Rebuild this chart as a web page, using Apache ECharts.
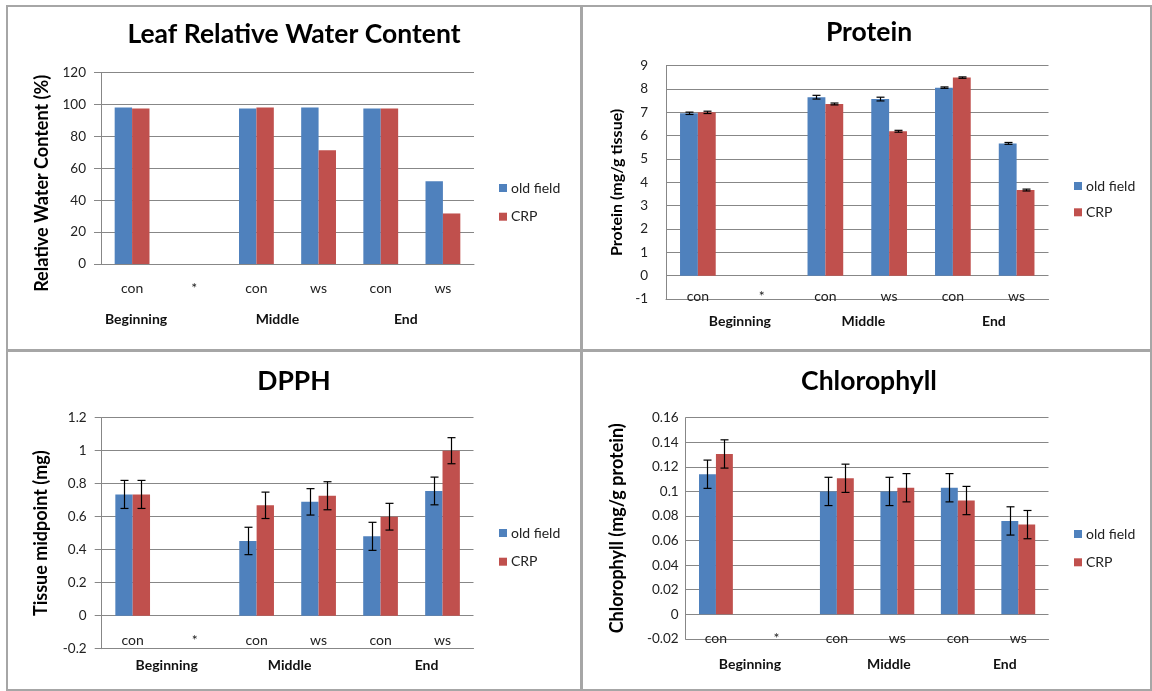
<!DOCTYPE html>
<html>
<head>
<meta charset="utf-8">
<script src="https://cdn.jsdelivr.net/npm/echarts@6/dist/echarts.min.js"></script>
<style>
  html, body { margin: 0; background: #fff; }
  #chart { width: 1152px; height: 691px; }
</style>
</head>
<body>
<div id="chart"></div>
<script>
// categories shared by all four panels
const categories = ['con', '*', 'con', 'ws', 'con', 'ws'];
const stages = ['Beginning', '', 'Middle', '', 'End', ''];
const seriesNames = ['old field', 'CRP'];

// Leaf relative water content (%)
const rwcOld = [98.1, null, 97.5, 98.1, 97.5, 51.9];
const rwcCrp = [97.5, null, 98.1, 71.3, 97.5, 31.7];

// Protein (mg/g tissue)
const proteinOld = [6.96, null, 7.65, 7.57, 8.06, 5.67];
const proteinCrp = [7.0, null, 7.36, 6.19, 8.49, 3.67];
const proteinOldErr = [0.05, null, 0.08, 0.08, 0.03, 0.04];
const proteinCrpErr = [0.05, null, 0.04, 0.04, 0.03, 0.04];

// DPPH tissue midpoint (mg)
const dpphOld = [0.735, null, 0.453, 0.69, 0.481, 0.756];
const dpphCrp = [0.735, null, 0.669, 0.727, 0.6, 1.0];
const dpphOldErr = [0.085, null, 0.083, 0.08, 0.085, 0.084];
const dpphCrpErr = [0.085, null, 0.08, 0.085, 0.081, 0.079];

// Chlorophyll (mg/g protein)
const chlOld = [0.114, null, 0.1, 0.1, 0.103, 0.076];
const chlCrp = [0.1305, null, 0.1107, 0.103, 0.0926, 0.073];
const chlOldErr = [0.0115, null, 0.0115, 0.0115, 0.0115, 0.0115];
const chlCrpErr = [0.0115, null, 0.0115, 0.0115, 0.0115, 0.0115];

const BLUE = '#4F81BD';
const RED = '#C0504D';
const GRID_LINE = '#878787';
const FONT = 'Lato, "Liberation Sans", sans-serif';

// layout of each panel (pixel positions only)
const panels = [
  {
    title: 'Leaf Relative Water Content', titleX: 294, titleY: 21,
    yName: 'Relative Water Content (%)', nameSize: 18, nameGap: 50, namePad: [0, 30, 0, 0],
    grid: { left: 101, right: 678, top: 72.7, bottom: 427 },
    min: 0, max: 120, interval: 20, ticks: true, labelMargin: 15,
    catMargin: 17, stageMargin: 48, stageShift: [4, 0, 21, 0, 25, 0],
    legend: { left: 499, top: 181, itemGap: 14.7 },
    old: rwcOld, crp: rwcCrp
  },
  {
    title: 'Protein', titleX: 869, titleY: 19,
    yName: 'Protein (mg/g tissue)', nameSize: 16, nameGap: 41, namePad: [0, 0, 0, 0],
    grid: { left: 666, right: 103.5, top: 65.7, bottom: 392 },
    min: -1, max: 9, interval: 1, ticks: false, labelMargin: 18,
    catMargin: -10, stageMargin: 15, stageShift: [42, 0, 38, 0, 41, 0],
    legend: { left: 1074, top: 179, itemGap: 12.3 },
    old: proteinOld, crp: proteinCrp, oldErr: proteinOldErr, crpErr: proteinCrpErr
  },
  {
    title: 'DPPH', titleX: 294, titleY: 368,
    yName: 'Tissue midpoint (mg)', nameSize: 18, nameGap: 52, namePad: [0, 0, 0, 0],
    grid: { left: 101.7, right: 678.5, top: 417.7, bottom: 42.3 },
    min: -0.2, max: 1.2, interval: 0.2, ticks: true, labelMargin: 15,
    catMargin: -15.5, stageMargin: 9.3, stageShift: [34, 0, 33, 0, 46, 0],
    legend: { left: 499, top: 526, itemGap: 14.7 },
    old: dpphOld, crp: dpphCrp, oldErr: dpphOldErr, crpErr: dpphCrpErr
  },
  {
    title: 'Chlorophyll', titleX: 869, titleY: 368,
    yName: 'Chlorophyll (mg/g protein)', nameSize: 18, nameGap: 60, namePad: [0, 0, 0, 0],
    grid: { left: 685.7, right: 103.5, top: 417.7, bottom: 52.1 },
    min: -0.02, max: 0.16, interval: 0.02, ticks: false, labelMargin: 7,
    catMargin: -7, stageMargin: 19, stageShift: [34, 0, 52, 0, 47, 0],
    legend: { left: 1074, top: 527, itemGap: 14.3 },
    old: chlOld, crp: chlCrp, oldErr: chlOldErr, crpErr: chlCrpErr
  }
];

function errorBars(side) {
  return function (params, api) {
    const i = api.value(0);
    const v = api.value(1);
    const e = api.value(2);
    const w = api.size([1, 0])[0];
    const hi = api.coord([i, v + e]);
    const lo = api.coord([i, v - e]);
    const x = Math.round(hi[0] + side * w * 0.14) + 0.5;
    const style = { stroke: '#000', lineWidth: 1.2 };
    return {
      type: 'group',
      children: [
        { type: 'line', shape: { x1: x, y1: hi[1], x2: x, y2: lo[1] }, style },
        { type: 'line', shape: { x1: x - 4, y1: hi[1], x2: x + 4, y2: hi[1] }, style },
        { type: 'line', shape: { x1: x - 4, y1: lo[1], x2: x + 4, y2: lo[1] }, style }
      ]
    };
  };
}

function errData(values, errs) {
  const out = [];
  values.forEach((v, i) => {
    if (v != null && errs[i] != null) out.push([i, v, errs[i]]);
  });
  return out;
}

const option = {
  animation: false,
  backgroundColor: '#fff',
  textStyle: { fontFamily: FONT },
  title: [], legend: [], grid: [], xAxis: [], yAxis: [], series: [],
  graphic: [
    { type: 'rect', silent: true, shape: { x: 7, y: 6, width: 574, height: 344 }, style: { fill: 'none', stroke: '#a6a6a6', lineWidth: 2 } },
    { type: 'rect', silent: true, shape: { x: 582, y: 6, width: 569, height: 344 }, style: { fill: 'none', stroke: '#a6a6a6', lineWidth: 2 } },
    { type: 'rect', silent: true, shape: { x: 7, y: 351, width: 574, height: 339 }, style: { fill: 'none', stroke: '#a6a6a6', lineWidth: 2 } },
    { type: 'rect', silent: true, shape: { x: 582, y: 351, width: 569, height: 339 }, style: { fill: 'none', stroke: '#a6a6a6', lineWidth: 2 } }
  ]
};

panels.forEach((p, k) => {
  option.title.push({
    text: p.title, left: p.titleX, top: p.titleY, textAlign: 'center', padding: 0,
    textStyle: { fontFamily: FONT, fontSize: 26.5, fontWeight: 'bold', color: '#000' }
  });
  option.legend.push({
    data: seriesNames.map(n => ({ name: n, icon: 'rect' })),
    orient: 'vertical', left: p.legend.left, top: p.legend.top, itemGap: p.legend.itemGap,
    itemWidth: 8, itemHeight: 8, padding: 0, selectedMode: false,
    textStyle: { fontFamily: FONT, fontSize: 14, color: '#222', padding: [0, 0, 0, -1] }
  });
  option.grid.push(Object.assign({ containLabel: false }, p.grid));
  option.xAxis.push({
    type: 'category', gridIndex: k, data: categories, position: 'bottom',
    axisLine: { onZero: false, lineStyle: { color: GRID_LINE } },
    axisTick: { show: false },
    axisLabel: { interval: 0, margin: p.catMargin, fontSize: 14, color: '#222', fontFamily: FONT }
  });
  option.xAxis.push({
    type: 'category', gridIndex: k, position: 'bottom',
    data: stages.map((s, i) => ({ value: s, textStyle: { padding: [0, 0, 0, 2 * p.stageShift[i]] } })),
    axisLine: { show: false }, axisTick: { show: false }, splitLine: { show: false },
    axisLabel: { interval: 0, margin: p.stageMargin, fontSize: 14, fontWeight: 'bold', color: '#111', fontFamily: FONT }
  });
  option.yAxis.push({
    type: 'value', gridIndex: k, min: p.min, max: p.max, interval: p.interval,
    name: p.yName, nameLocation: 'middle', nameGap: p.nameGap,
    nameTextStyle: { fontFamily: FONT, fontSize: p.nameSize, fontWeight: 'bold', color: '#000', padding: p.namePad },
    axisLine: { show: true, lineStyle: { color: GRID_LINE } },
    axisTick: { show: p.ticks, length: 7, lineStyle: { color: GRID_LINE } },
    splitLine: { lineStyle: { color: GRID_LINE, width: 1 } },
    axisLabel: { margin: p.labelMargin, fontSize: 13.5, color: '#222', fontFamily: FONT }
  });
  const xi = k * 2;
  option.series.push({
    name: seriesNames[0], type: 'bar', xAxisIndex: xi, yAxisIndex: k, data: p.old,
    itemStyle: { color: BLUE }, barGap: '0%', barCategoryGap: '44%'
  });
  option.series.push({
    name: seriesNames[1], type: 'bar', xAxisIndex: xi, yAxisIndex: k, data: p.crp,
    itemStyle: { color: RED }, barGap: '0%', barCategoryGap: '44%'
  });
  if (p.oldErr) {
    option.series.push({
      type: 'custom', xAxisIndex: xi, yAxisIndex: k, z: 5,
      renderItem: errorBars(-1), encode: { x: 0, y: 1 }, data: errData(p.old, p.oldErr)
    });
    option.series.push({
      type: 'custom', xAxisIndex: xi, yAxisIndex: k, z: 5,
      renderItem: errorBars(1), encode: { x: 0, y: 1 }, data: errData(p.crp, p.crpErr)
    });
  }
});

const chart = echarts.init(document.getElementById('chart'));
chart.setOption(option);
window.addEventListener('resize', () => chart.resize());
</script>
</body>
</html>
